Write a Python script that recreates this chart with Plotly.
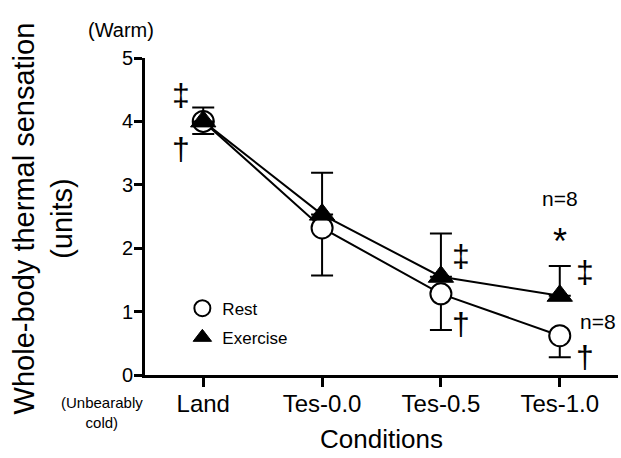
import plotly.graph_objects as go

categories = ["Land", "Tes-0.0", "Tes-0.5", "Tes-1.0"]
rest_mean = [4.0, 2.32, 1.28, 0.62]
rest_err_minus = [0.20, 0.75, 0.57, 0.34]
exercise_mean = [4.0, 2.53, 1.55, 1.25]
exercise_err_plus = [0.22, 0.66, 0.68, 0.47]
y_ticks = [0, 1, 2, 3, 4, 5]

FONT = "Liberation Sans, Arial, sans-serif"
x_pos = list(range(len(categories)))

fig = go.Figure()
fig.add_trace(go.Scatter(x=x_pos, y=rest_mean, mode="lines",
                         line=dict(color="black", width=2), showlegend=False, hoverinfo="skip"))
fig.add_trace(go.Scatter(x=x_pos, y=exercise_mean, mode="lines",
                         line=dict(color="black", width=2), showlegend=False, hoverinfo="skip"))
fig.add_trace(go.Scatter(
    x=x_pos, y=rest_mean, mode="markers", name="Rest", legendgroup="r",
    marker=dict(symbol="circle", size=21, color="white", line=dict(color="black", width=2)),
    error_y=dict(type="data", symmetric=False, array=[0] * 4, arrayminus=rest_err_minus,
                 color="black", thickness=2, width=11)))
fig.add_trace(go.Scatter(
    x=x_pos, y=exercise_mean, mode="markers", name="Exercise", legendgroup="e",
    marker=dict(symbol="triangle-up", size=22, color="black", line=dict(color="black", width=1)),
    error_y=dict(type="data", symmetric=False, array=exercise_err_plus, arrayminus=[0] * 4,
                 color="black", thickness=2, width=11)))

ann = []
def a(x, y, text, size, xanchor="center", xref="x", yref="y", angle=0):
    ann.append(dict(x=x, y=y, text=text, xref=xref, yref=yref, showarrow=False,
                    xanchor=xanchor, yanchor="middle", textangle=angle,
                    font=dict(family=FONT, size=size, color="black")))

a(-0.19, 4.42, "‡", 32)
a(-0.19, 3.56, "†", 32)
a(2.17, 1.87, "‡", 32)
a(2.17, 0.80, "†", 32)
a(3.21, 1.62, "‡", 32)
a(3.21, 0.28, "†", 32)
a(3.0, 2.79, "n=8", 21)
a(3.0, 2.10, "*", 36)
a(3.15, 0.84, "n=8", 21, xanchor="left")

a(-0.051, 1.088, "(Warm)", 20, xref="paper", yref="paper")
a(-0.091, -0.117, "(Unbearably<br>cold)", 15, xref="paper", yref="paper")
a(-0.215, 0.495, "Whole-body thermal sensation<br>(units)", 29, xref="paper", yref="paper", angle=-90)

fig.update_layout(
    width=621, height=458,
    margin=dict(l=145, r=3, t=58, b=83),
    paper_bgcolor="white", plot_bgcolor="white",
    font=dict(family=FONT, color="black"),
    annotations=ann,
    showlegend=True,
    legend=dict(x=0.079, y=0.266, xanchor="left", yanchor="top",
                font=dict(family=FONT, size=17), tracegroupgap=4,
                bgcolor="rgba(0,0,0,0)"),
    xaxis=dict(range=[-0.49, 3.49], tickvals=x_pos, ticktext=categories,
               showline=True, linecolor="black", linewidth=3, ticks="outside",
               ticklen=9, tickwidth=3, tickcolor="black", showgrid=False, zeroline=False,
               tickfont=dict(family=FONT, size=24), ticklabelstandoff=-4,
               title=dict(text="Conditions", font=dict(family=FONT, size=26), standoff=15)),
    yaxis=dict(range=[0, 5], tickvals=y_ticks, showline=True, linecolor="black", linewidth=3,
               ticks="outside", ticklen=8, tickwidth=3, tickcolor="black", ticklabelstandoff=-3,
               showgrid=False, zeroline=False, tickfont=dict(family=FONT, size=20)),
)

fig.write_html("out.html", config={"displayModeBar": False},
               post_script="document.body.style.margin='0';document.body.style.padding='0';")
